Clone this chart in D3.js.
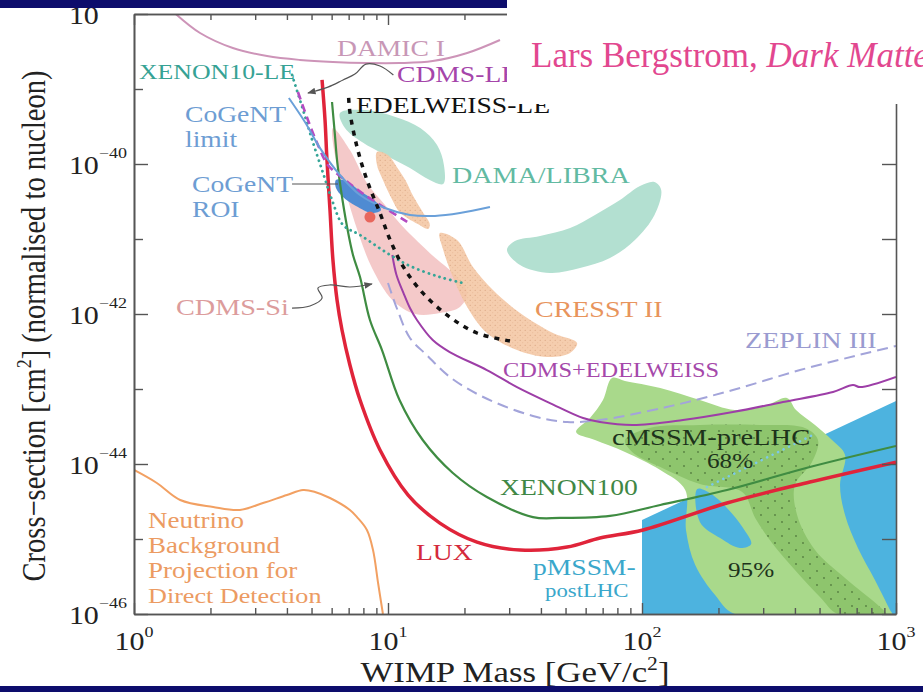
<!DOCTYPE html>
<html>
<head>
<meta charset="utf-8">
<script src="https://cdnjs.cloudflare.com/ajax/libs/d3/7.8.5/d3.min.js"></script>
<style>
  body { margin: 0; background: #fff; }
  svg { display: block; font-family: "Liberation Serif", "Times New Roman", serif; }
</style>
</head>
<body>
<div id="chart"></div>
<script>
// ---- Data: [WIMP mass (GeV), cross-section (cm^2)] ----
var damicLimit = [[1.46,1e-38],[1.82,5.58e-39],[2.45,3.52e-39],[3.34,2.75e-39],[4.50,2.44e-39],[6.07,2.29e-39],[8.26,2.22e-39],[11.1,2.22e-39],[15.0,2.36e-39],[20.5,3.02e-39],[27.6,4.50e-39]];
var xenon10LE = [[4.19,1.54e-39],[4.63,5.25e-40],[5.07,1.91e-40],[5.55,7.59e-41],[6.02,3.31e-41],[6.65,1.54e-41],[7.76,1.13e-41],[10.2,6.12e-42],[12.2,4.37e-42],[16.0,3.11e-42],[19.7,2.59e-42]];
var cdmsLE = [[4.42,9.12e-40],[4.84,3.86e-40],[5.30,1.79e-40],[5.80,9.70e-41],[6.77,6.12e-41],[8.11,3.86e-41],[9.73,2.59e-41],[11.9,1.69e-41]];
var cogentLimit = [[4.07,7.59e-40],[4.71,3.63e-40],[5.40,1.63e-40],[6.47,7.13e-41],[7.76,3.86e-41],[9.73,2.59e-41],[12.2,2.09e-41],[15.3,2.03e-41],[19.2,2.22e-41],[25.2,2.67e-41]];
var cogentROI = [[6.24,6.12e-41],[6.83,5.93e-41],[7.76,4.37e-41],[8.89,3.21e-41],[9.38,2.44e-41],[8.65,2.22e-41],[7.48,2.75e-41],[6.65,3.63e-41],[6.24,4.79e-41]];
var cdmsSiBestFit = [[8.49,1.96e-41]];
var cdmsSiRegion = [[6.07,3.02e-40],[7.08,1.54e-40],[8.26,5.58e-41],[9.73,2.84e-41],[11.1,1.63e-41],[14.6,6.50e-42],[18.7,3.11e-42],[20.5,1.91e-42],[19.2,1.24e-42],[16.0,1.03e-42],[12.8,1.0e-42],[10.4,1.54e-42],[8.65,4.10e-42],[7.62,1.24e-41],[6.77,4.50e-41],[6.18,1.32e-40]];
var edelweissLE = [[7.0,7.6e-40],[7.08,4.93e-40],[7.55,1.69e-40],[8.26,6.12e-41],[9.30,2.22e-41],[10.2,9.70e-42],[11.5,4.24e-42],[13.7,1.91e-42],[17.5,9.12e-43],[22.4,5.58e-43],[30.2,4.37e-43]];
var damaRegionLow = [[6.47,4.79e-40],[8.11,5.25e-40],[10.7,4.24e-40],[13.4,3.02e-40],[15.6,1.79e-40],[16.6,9.70e-41],[16.5,5.41e-41],[14.6,6.12e-41],[12.2,8.85e-41],[9.73,1.32e-40],[7.90,1.96e-40],[6.77,3.02e-40]];
var damaRegionHigh = [[29.4,7.13e-42],[33.1,4.50e-42],[43.4,3.52e-42],[57.0,4.10e-42],[74.8,5.58e-42],[93.8,9.70e-42],[112,2.09e-41],[119,4.50e-41],[112,5.75e-41],[98.2,5.09e-41],[81.9,3.31e-41],[65.3,2.09e-41],[52.1,1.40e-41],[39.7,1.10e-41],[31.6,9.40e-42]];
var cresstRegionLow = [[9.05,1.45e-40],[10.0,1.32e-40],[10.9,8.85e-41],[11.7,6.12e-41],[12.5,3.86e-41],[13.7,2.29e-41],[14.6,1.58e-41],[14.4,1.36e-41],[13.1,1.58e-41],[11.1,2.29e-41],[10.4,3.31e-41],[9.55,6.12e-41],[9.05,9.70e-41]];
var cresstRegionHigh = [[16.0,1.20e-41],[18.7,9.70e-42],[21.6,4.24e-42],[25.9,2.09e-42],[33.1,1.03e-42],[44.6,5.58e-43],[55.5,4.10e-43],[52.1,3.02e-43],[42.3,2.67e-43],[32.2,3.31e-43],[24.5,5.58e-43],[20.5,1.24e-42],[18.0,3.11e-42],[16.5,7.13e-42]];
var xenon100 = [[6.02,6.71e-40],[6.18,2.44e-40],[6.30,1.13e-40],[6.53,4.50e-41],[6.90,1.45e-41],[7.28,6.12e-42],[7.76,3.11e-42],[8.49,8.32e-43],[9.47,3.31e-43],[11.1,7.13e-44],[13.7,2.09e-44],[18.0,7.59e-45],[24.5,3.63e-45],[37.2,1.96e-45],[47.5,1.91e-45],[74.8,2.03e-45],[118,2.84e-45],[216,4.50e-45],[458,9.12e-45],[1000,1.74e-44]];
var luxLimit = [[5.50,1.32e-39],[5.65,3.86e-40],[5.75,1.13e-40],[5.91,2.44e-41],[6.07,5.25e-42],[6.30,1.54e-42],[6.59,6.12e-43],[7.08,2.09e-43],[7.76,7.13e-44],[9.30,1.54e-44],[12.0,3.86e-45],[16.0,1.63e-45],[22.4,9.1e-46],[33.1,7.13e-46],[50.7,7.8e-46],[68.3,1.03e-45],[101,1.32e-45],[216,3.02e-45],[458,5.75e-45],[1000,1.06e-44]];
var cdmsEdelweiss = [[10.4,6.12e-42],[10.8,3.31e-42],[11.5,1.91e-42],[12.2,1.20e-42],[13.0,8.32e-43],[15.0,4.50e-43],[17.5,3.11e-43],[24.5,1.79e-43],[32.2,1.06e-43],[43.4,6.50e-44],[58.6,4.10e-44],[68.3,3.63e-44],[92.2,3.31e-44],[145,3.86e-44],[228,4.93e-44],[359,6.71e-44],[565,9.12e-44],[677,1.13e-43],[722,1.06e-43],[1000,1.45e-43]];
var zeplin3 = [[10.0,2.59e-42],[10.9,1.13e-42],[12.2,4.79e-43],[14.2,2.84e-43],[17.5,1.45e-43],[23.7,7.82e-44],[37.2,4.37e-44],[50.7,3.63e-44],[68.3,3.86e-44],[125,5.75e-44],[228,9.70e-44],[419,1.79e-43],[769,3.02e-43],[1000,3.74e-43]];
var neutrinoFloor = [[1.0,8.32e-45],[1.23,5.58e-45],[1.52,3.31e-45],[2.05,2.67e-45],[2.61,2.44e-45],[3.22,3.02e-45],[4.0,3.86e-45],[4.63,4.50e-45],[5.16,4.24e-45],[5.91,3.52e-45],[7.08,2.44e-45],[7.55,1.96e-45],[8.26,1.32e-45],[8.73,7.13e-46],[9.14,2.59e-46],[9.55,1e-46]];
var cmssm95 = [[55.0,2.67e-44],[62.4,4.10e-44],[70.2,7.13e-44],[76.2,1.40e-43],[85.7,1.28e-43],[118,1.03e-43],[169,7.13e-44],[232,5.25e-44],[305,5.93e-44],[372,7.59e-44],[404,5.25e-44],[480,3.31e-44],[560,2.09e-44],[630,1.32e-44],[602,5.25e-45],[630,2.09e-45],[708,7.59e-46],[826,2.84e-46],[947,1.13e-46],[964,1e-46],[232,1e-46],[194,1.79e-46],[162,4.50e-46],[149,1.32e-45],[148,4.50e-45],[118,8.32e-45],[85.7,1.45e-44],[65.3,2.09e-44]];
var cmssm68 = [[85.7,2.09e-44],[107,3.02e-44],[169,3.31e-44],[291,3.31e-44],[438,3.02e-44],[493,2.09e-44],[467,1.06e-44],[400,5.25e-45],[408,2.09e-45],[480,7.13e-46],[630,3.02e-46],[865,1.24e-46],[914,1e-46],[591,1e-46],[502,1.69e-46],[400,3.86e-46],[325,8.85e-46],[279,1.91e-45],[248,4.24e-45],[169,5.41e-45],[118,9.12e-45],[91.4,1.45e-44]];
var pmssmRegion = [[100,1.79e-45],[1000,6.92e-44],[1000,1e-46],[100,1e-46]];
var pmssmNotch = [[165,4.64e-45],[169,1.69e-45],[203,1.03e-45],[243,7.59e-46],[269,8.57e-46],[250,1.40e-45],[216,2.59e-45],[185,4.10e-45]];
var pmssmDotted = [[180,4.93e-45],[471,2.44e-44]];
// leader lines from labels
var cdmsLEPointer = [[10.5,1.54e-39],[9.30,2.03e-39],[8.19,2.15e-39],[7.41,1.58e-39],[6.65,1.32e-39],[5.80,1.06e-39],[4.84,8.85e-40]];
var cogentROIPointer = [[4.19,5.41e-41],[6.36,5.41e-41]];
var cdmsSiPointer = [[4.19,1.20e-42],[4.93,1.28e-42],[5.50,1.63e-42],[5.30,2.22e-42],[5.91,2.44e-42],[7.08,2.29e-42],[8.65,2.51e-42]];
// ticks
var xMajorTicks = [1, 10, 100, 1000];
var xTickExponents = ["0", "1", "2", "3"];
var yMajorTicks = [1e-46, 1e-45, 1e-44, 1e-43, 1e-42, 1e-41, 1e-40, 1e-39, 1e-38];
var yLabelTicks = [1e-46, 1e-44, 1e-42, 1e-40, 1e-38];
var yTickExponents = ["\u221246", "\u221244", "\u221242", "\u221240", "\u221238"];

var svgWidth = 923;
var svgHeight = 692;
var margin = {top: 14, right: 27, bottom: 78, left: 134};
var width = svgWidth - margin.left - margin.right;
var height = svgHeight - margin.top - margin.bottom;

var svg = d3.select("#chart").append("svg")
  .attr("width", svgWidth)
  .attr("height", svgHeight);

var defs = svg.append("defs");
defs.append("clipPath").attr("id", "plotClip")
  .append("rect").attr("width", width).attr("height", height);

var stipple = defs.append("pattern").attr("id", "stipple")
  .attr("width", 5).attr("height", 5).attr("patternUnits", "userSpaceOnUse");
stipple.append("rect").attr("width", 5).attr("height", 5).attr("fill", "#f4c7a5");
stipple.append("circle").attr("cx", 1.2).attr("cy", 1.3).attr("r", 0.55).attr("fill", "#cf9068");
stipple.append("circle").attr("cx", 3.8).attr("cy", 3.7).attr("r", 0.45).attr("fill", "#dba07a");

var greenDots = defs.append("pattern").attr("id", "greenDots")
  .attr("width", 14).attr("height", 14).attr("patternUnits", "userSpaceOnUse");
greenDots.append("rect").attr("width", 14).attr("height", 14).attr("fill", "#8ec56d");
greenDots.append("circle").attr("cx", 4).attr("cy", 4).attr("r", 0.9).attr("fill", "#557f40");
greenDots.append("circle").attr("cx", 11).attr("cy", 11).attr("r", 0.9).attr("fill", "#557f40");

defs.append("marker").attr("id", "arrow")
  .attr("viewBox", "0 0 10 10").attr("refX", 9).attr("refY", 5)
  .attr("markerWidth", 7).attr("markerHeight", 7).attr("orient", "auto-start-reverse")
  .append("path").attr("d", "M0,1 L10,5 L0,9 z").attr("fill", "#555");

var chartGroup = svg.append("g")
  .attr("transform", `translate(${margin.left}, ${margin.top})`);

// scales
var xLogScale = d3.scaleLog().domain([1, 1000]).range([0, width]);
var yLogScale = d3.scaleLog().domain([1e-46, 1e-38]).range([height, 0]);

var smoothLine = d3.line().x(d => xLogScale(d[0])).y(d => yLogScale(d[1])).curve(d3.curveCatmullRom.alpha(0.5));
var smoothShape = d3.line().x(d => xLogScale(d[0])).y(d => yLogScale(d[1])).curve(d3.curveCatmullRomClosed.alpha(0.5));
var flatShape = d3.line().x(d => xLogScale(d[0])).y(d => yLogScale(d[1])).curve(d3.curveLinearClosed);

var plot = chartGroup.append("g").attr("clip-path", "url(#plotClip)");

// filled regions
plot.append("path").attr("d", flatShape(pmssmRegion)).attr("fill", "#4db3df");
plot.append("path").attr("d", smoothShape(cmssm95)).attr("fill", "#a9d98b");
plot.append("path").attr("d", smoothShape(pmssmNotch)).attr("fill", "#4db3df");
plot.append("path").attr("d", smoothShape(cmssm68)).attr("fill", "url(#greenDots)");
plot.append("path").attr("d", smoothShape(damaRegionLow)).attr("fill", "#b3e0d1");
plot.append("path").attr("d", smoothShape(damaRegionHigh)).attr("fill", "#b3e0d1");
plot.append("path").attr("d", smoothShape(cdmsSiRegion)).attr("fill", "#f2bfc0").attr("opacity", 0.85);
plot.append("path").attr("d", smoothShape(cresstRegionLow)).attr("fill", "url(#stipple)").attr("opacity", 0.9);
plot.append("path").attr("d", smoothShape(cresstRegionHigh)).attr("fill", "url(#stipple)").attr("opacity", 0.9);
plot.append("path").attr("d", smoothShape(cogentROI)).attr("fill", "#4f8bd2");

// limit curves
function drawCurve(data, color, w, dash, cap) {
  plot.append("path")
    .attr("d", smoothLine(data))
    .attr("fill", "none")
    .attr("stroke", color)
    .attr("stroke-width", w)
    .attr("stroke-dasharray", dash || null)
    .attr("stroke-linecap", cap || "butt")
    .attr("stroke-linejoin", "round");
}
drawCurve(neutrinoFloor, "#f2a062", 2);
drawCurve(damicLimit, "#cd94b8", 2);
drawCurve(pmssmDotted, "#7cc9ea", 2.5, "0.1,6", "round");
drawCurve(zeplin3, "#a3a4da", 2, "11,6");
drawCurve(cdmsEdelweiss, "#9d3ea7", 2);
drawCurve(xenon100, "#3f8c42", 2.2);
drawCurve(luxLimit, "#e0243a", 3.5);
drawCurve(xenon10LE, "#35a597", 2.8, "0.1,5.5", "round");
drawCurve(cdmsLE, "#b44cc2", 2.6, "8,5");
drawCurve(cogentLimit, "#6aa0d9", 2);
drawCurve(edelweissLE, "#111", 3.5, "5,6");

plot.selectAll(".bestfit")
  .data(cdmsSiBestFit)
  .enter()
  .append("circle")
  .attr("cx", d => xLogScale(d[0]))
  .attr("cy", d => yLogScale(d[1]))
  .attr("r", 5.5)
  .attr("fill", "#e8665c");

// leader lines
[cdmsLEPointer, cogentROIPointer, cdmsSiPointer].forEach(function(p, i) {
  chartGroup.append("path")
    .attr("d", smoothLine(p))
    .attr("fill", "none")
    .attr("stroke", "#555")
    .attr("stroke-width", 1.2)
    .attr("marker-end", i === 1 ? null : "url(#arrow)");
});

// axes (ticks point inward)
function styleAxis(g) {
  g.selectAll("path.domain").attr("stroke", "#555").attr("stroke-width", 1.6);
  g.selectAll(".tick line").attr("stroke", "#555").attr("stroke-width", 1.4);
  g.selectAll(".tick text").remove();
}
var xMinorTicks = xLogScale.ticks().filter(v => xMajorTicks.indexOf(v) < 0);
chartGroup.append("g").attr("transform", `translate(0, ${height})`)
  .call(d3.axisBottom(xLogScale).tickValues(xMinorTicks).tickSize(-6).tickSizeOuter(0)).call(styleAxis);
chartGroup.append("g").attr("transform", `translate(0, ${height})`)
  .call(d3.axisBottom(xLogScale).tickValues(xMajorTicks).tickSize(-11).tickSizeOuter(0)).call(styleAxis);
chartGroup.append("g")
  .call(d3.axisTop(xLogScale).tickValues(xMinorTicks).tickSize(-6).tickSizeOuter(0)).call(styleAxis);
chartGroup.append("g")
  .call(d3.axisTop(xLogScale).tickValues(xMajorTicks).tickSize(-11).tickSizeOuter(0)).call(styleAxis);
chartGroup.append("g")
  .call(d3.axisLeft(yLogScale).tickValues(yMajorTicks.filter(v => yLabelTicks.indexOf(v) < 0)).tickSize(-9).tickSizeOuter(0)).call(styleAxis);
chartGroup.append("g")
  .call(d3.axisLeft(yLogScale).tickValues(yLabelTicks).tickSize(-14).tickSizeOuter(0)).call(styleAxis);
chartGroup.append("g").attr("transform", `translate(${width}, 0)`)
  .call(d3.axisRight(yLogScale).tickValues(yMajorTicks).tickSize(-14).tickSizeOuter(0)).call(styleAxis);

// tick labels 10^n
xMajorTicks.forEach(function(v, i) {
  var t = svg.append("text")
    .attr("transform", `translate(${margin.left + xLogScale(v)}, 650) scale(1.2,1)`)
    .attr("text-anchor", "middle").attr("fill", "#222").attr("font-size", 25);
  t.append("tspan").text("10");
  t.append("tspan").attr("dy", -13).attr("font-size", 15).text(xTickExponents[i]);
});
yLabelTicks.forEach(function(v, i) {
  var t = svg.append("text")
    .attr("transform", `translate(127, ${margin.top + yLogScale(v) + 10}) scale(1.2,1)`)
    .attr("text-anchor", "end").attr("fill", "#222").attr("font-size", 25);
  t.append("tspan").text("10");
  t.append("tspan").attr("dy", -16).attr("font-size", 15).text(yTickExponents[i]);
});

// axis titles
var xTitle = svg.append("text")
  .attr("transform", "translate(515, 682) scale(1.2,1)")
  .attr("text-anchor", "middle").attr("fill", "#222").attr("font-size", 29);
xTitle.append("tspan").text("WIMP Mass [GeV/c");
xTitle.append("tspan").attr("dy", -12).attr("font-size", 18).text("2");
xTitle.append("tspan").attr("dy", 12).text("]");

var yTitle = svg.append("text")
  .attr("transform", "translate(45, 326) scale(1.2,1) rotate(-90)")
  .attr("text-anchor", "middle").attr("fill", "#222").attr("font-size", 28.5);
yTitle.append("tspan").text("Cross\u2212section [cm");
yTitle.append("tspan").attr("dy", -12).attr("font-size", 18).text("2");
yTitle.append("tspan").attr("dy", 12).text("] (normalised to nucleon)");

// curve / region labels: text, left x, baseline y, size, colour
var labelLayout = [
  ["DAMIC I", 337, 56, 23, "#c897b6"],
  ["XENON10-LE", 139, 79, 21.5, "#36a294"],
  ["CDMS-LE", 397, 82, 23, "#a545aa"],
  ["EDELWEISS-LE", 356, 113, 23, "#111"],
  ["CoGeNT", 185, 122, 23, "#6d9dd3"],
  ["limit", 185, 147, 23, "#6d9dd3"],
  ["CoGeNT", 192, 192, 23, "#6d9dd3"],
  ["ROI", 192, 217, 23, "#6d9dd3"],
  ["DAMA/LIBRA", 452, 183, 23.4, "#62baa2"],
  ["CRESST II", 535, 317, 23.3, "#e8945c"],
  ["CDMS-Si", 176, 315, 23.5, "#dc9c9c"],
  ["ZEPLIN III", 745, 348, 23.4, "#9a9bd0"],
  ["CDMS+EDELWEISS", 503, 377, 20.3, "#a548aa"],
  ["cMSSM-preLHC", 612, 445, 23.8, "#1d331b"],
  ["68%", 707, 468, 21, "#1d331b"],
  ["95%", 728, 577, 21, "#1d331b"],
  ["XENON100", 500, 495, 23, "#3f8745"],
  ["LUX", 416, 560, 23, "#d42a3c"],
  ["pMSSM-", 533, 575, 23, "#3aa7cb"],
  ["postLHC", 545, 597, 19, "#3aa7cb"],
  ["Neutrino", 148, 528, 22.5, "#ec9b62"],
  ["Background", 148, 553, 22.5, "#ec9b62"],
  ["Projection for", 148, 578, 22.5, "#ec9b62"],
  ["Direct Detection", 148, 603, 21.8, "#ec9b62"]
];
labelLayout.forEach(function(l) {
  svg.append("text")
    .attr("transform", `translate(${l[1]}, ${l[2]}) scale(1.2,1)`)
    .attr("font-size", l[3])
    .attr("fill", l[4])
    .text(l[0]);
});

// slide overlay: citation box and navy bars
svg.append("rect").attr("x", 507).attr("y", 0).attr("width", 416).attr("height", 104).attr("fill", "#fff");
var cite = svg.append("text").attr("x", 531).attr("y", 67).attr("font-size", 35).attr("fill", "#e2478f");
cite.append("tspan").text("Lars Bergstrom, ");
cite.append("tspan").attr("font-style", "italic").text("Dark Matter");
svg.append("rect").attr("x", 0).attr("y", 0).attr("width", 507).attr("height", 8).attr("fill", "#0d0d6c");
svg.append("rect").attr("x", 0).attr("y", 686).attr("width", 923).attr("height", 6).attr("fill", "#0d0d6c");
</script>
</body>
</html>
